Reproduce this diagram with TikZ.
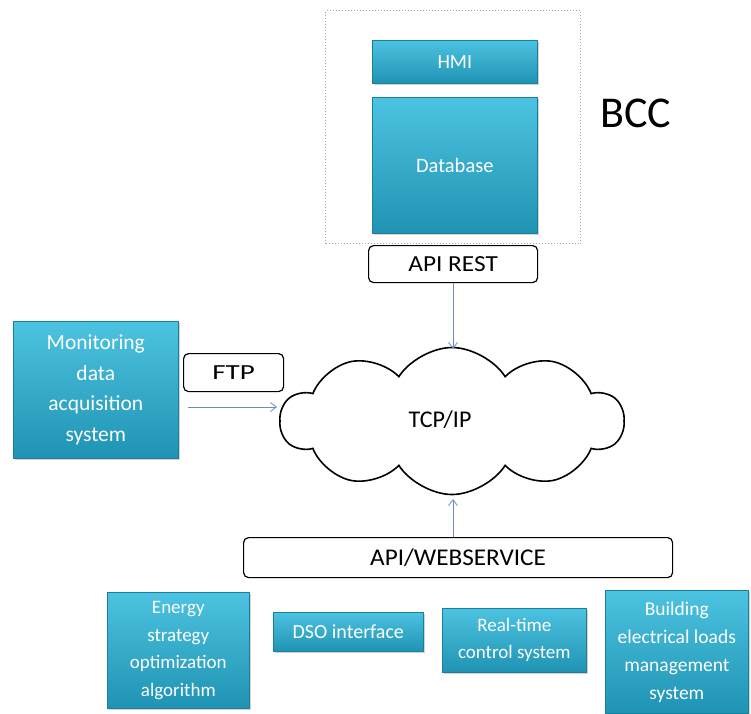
\documentclass[tikz,border=0pt]{standalone}
\usepackage{fontspec}
\setmainfont{Carlito}
\usetikzlibrary{shapes.symbols,arrows.meta,shadows}
\definecolor{tealtop}{HTML}{4CC3E0}
\definecolor{tealbot}{HTML}{1F93B3}
\definecolor{tealedge}{HTML}{1A7F9C}
\definecolor{arrowc}{HTML}{6A8CC0}
\definecolor{dotc}{HTML}{A0A0D0}
\tikzset{
  tealbox/.style={draw=tealedge, line width=0.6pt, top color=tealtop, bottom color=tealbot,
    text=white, align=center, inner sep=2pt, drop shadow={opacity=0.35, shadow xshift=1.5pt, shadow yshift=-2pt}},
  labelbox/.style={draw=black, line width=1.2pt, rounded corners=5pt, fill=white, inner sep=0pt},
  link/.style={draw=arrowc, line width=0.8pt, -{Straight Barb[length=6pt,width=9pt]}},
}
\begin{document}
\begin{tikzpicture}[x=1pt,y=-1pt]
\useasboundingbox (0,0) rectangle (751,713);
% BCC group
\node[draw=dotc, dotted, line width=1pt, minimum width=255, minimum height=233, anchor=north west] (bcc) at (325,10) {};
\node[tealbox, minimum width=165, minimum height=43, anchor=north west, font=\fontsize{20}{24}\selectfont] (hmi) at (372,40) {HMI};
\node[tealbox, minimum width=165, minimum height=136, anchor=north west, font=\fontsize{20.5}{24}\selectfont] (db) at (372,97) {Database};
\node[font=\fontsize{44}{50}\selectfont, anchor=center] (bcclabel) at (636,113) {BCC};
\node[labelbox, minimum width=169, minimum height=37, anchor=north west, font=\fontsize{23}{26}\selectfont] (rest) at (368,245) {\scalebox{1.1}[1]{API REST}};
% cloud
\node[cloud, draw=black, line width=1.6pt, cloud puffs=10, cloud puff arc=115, aspect=2.3,
  minimum width=343, minimum height=147, inner sep=0pt] (net) at (452,421) {};
\node[font=\fontsize{24}{28}\selectfont] (tcp) at (440,420) {TCP/IP};
% monitoring
\node[tealbox, minimum width=165, minimum height=137, anchor=north west, font=\fontsize{21.5}{30.5}\selectfont] (mon) at (13,321) {Monitoring\\data\\acquisition\\system};
\node[labelbox, minimum width=100, minimum height=38, anchor=north west, font=\fontsize{21.5}{24}\selectfont] (ftp) at (183,353) {\scalebox{1.35}[1]{FTP}};
\coordinate (ftpstart) at (188,407);
\coordinate (ftpend) at (277,407);
\draw[link] (ftpstart) -- (ftpend);
% rest arrow
\coordinate (restend) at (453,349);
\draw[link] (rest.south -| restend) -- (restend);
% webservice
\node[labelbox, minimum width=429, minimum height=40, anchor=north west, font=\fontsize{24}{28}\selectfont] (ws) at (243,537) {\scalebox{1.05}[1]{API/WEBSERVICE}};
\coordinate (wsend) at (453,499);
\draw[link] (ws.north -| wsend) -- (wsend);
% bottom boxes
\node[tealbox, minimum width=142, minimum height=116, anchor=north west, font=\fontsize{19}{27.5}\selectfont] (energy) at (107,592) {Energy\\strategy\\optimization\\algorithm};
\node[tealbox, minimum width=150, minimum height=39, anchor=north west, font=\fontsize{20}{24}\selectfont] (dso) at (273,612) {DSO interface};
\node[tealbox, minimum width=144, minimum height=64, anchor=north west, font=\fontsize{19}{27}\selectfont] (rt) at (442,608) {Real-time\\control system};
\node[tealbox, minimum width=143, minimum height=123, anchor=north west, font=\fontsize{19.5}{28}\selectfont] (bldg) at (605,590) {Building\\electrical loads\\management\\system};
\end{tikzpicture}
\end{document}
